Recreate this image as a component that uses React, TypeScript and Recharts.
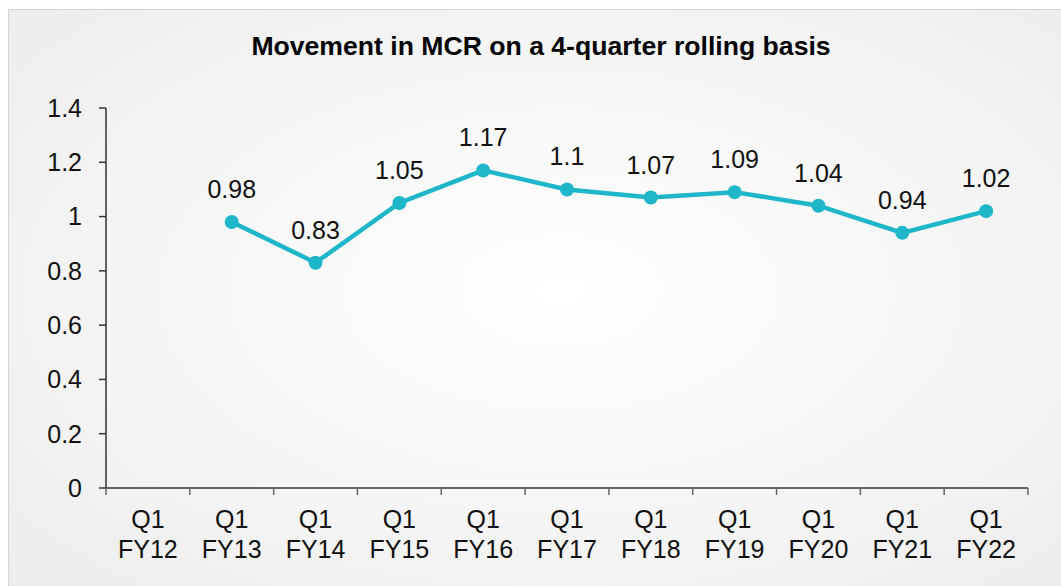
import React from 'react';
import { LineChart, Line, XAxis, YAxis, LabelList } from 'recharts';

const quarters = ['Q1', 'Q1', 'Q1', 'Q1', 'Q1', 'Q1', 'Q1', 'Q1', 'Q1', 'Q1', 'Q1'];
const years = ['FY12', 'FY13', 'FY14', 'FY15', 'FY16', 'FY17', 'FY18', 'FY19', 'FY20', 'FY21', 'FY22'];
const mcr = [null, 0.98, 0.83, 1.05, 1.17, 1.1, 1.07, 1.09, 1.04, 0.94, 1.02];
const yTicks = [0, 0.2, 0.4, 0.6, 0.8, 1, 1.2, 1.4];

const data = years.map((fy, i) => ({ name: `${quarters[i]} ${fy}`, q: quarters[i], fy, mcr: mcr[i] }));

const W = 1061;
const H = 586;
const MARGIN = { top: 108, right: 33, bottom: 18, left: 26 };
const Y_WIDTH = 80;
const BAND = (W - MARGIN.left - MARGIN.right - Y_WIDTH) / data.length;
const FONT = '"Liberation Sans", Arial, sans-serif';
const TEAL = '#1fb6ca';

const XTick = (props: any) => {
  const { x, y, index, payload } = props;
  const row = data[index] || data.find((d) => d.name === payload.value);
  const left = x - BAND / 2;
  return (
    <g>
      <line x1={left} y1={y} x2={left} y2={y + 7} stroke="#666" strokeWidth={1.5} />
      {index === data.length - 1 && (
        <line x1={x + BAND / 2} y1={y} x2={x + BAND / 2} y2={y + 7} stroke="#666" strokeWidth={1.5} />
      )}
      <text x={x} y={y + 40} textAnchor="middle" fontSize={25} fill="#111" fontFamily={FONT}>
        {row ? row.q : ''}
      </text>
      <text x={x} y={y + 70} textAnchor="middle" fontSize={25} fill="#111" fontFamily={FONT}>
        {row ? row.fy : ''}
      </text>
    </g>
  );
};

const ValueLabel = (props: any) => {
  const { x, y, value } = props;
  if (value === null || value === undefined) return null;
  return (
    <text x={x} y={y - 24} textAnchor="middle" fontSize={25} fill="#111" fontFamily={FONT}>
      {value}
    </text>
  );
};

const App = () => {
  return (
    <div style={{ position: 'absolute', left: 0, top: 0, width: W, height: H, overflow: 'hidden', fontFamily: FONT }}>
      <div
        style={{
          position: 'absolute',
          left: 8,
          top: 9,
          width: W,
          height: H,
          border: '1px solid #d4d4d4',
          background: 'radial-gradient(ellipse at 52% 48%, #ffffff 0%, #f7f7f7 45%, #ececec 100%)',
        }}
      />
      <div
        style={{
          position: 'absolute',
          left: 541,
          top: 33,
          transform: 'translateX(-50%)',
          whiteSpace: 'nowrap',
          fontSize: 26.6,
          lineHeight: 1,
          fontWeight: 'bold',
          color: '#000',
        }}
      >
        Movement in MCR on a 4-quarter rolling basis
      </div>
      <div style={{ position: 'absolute', left: 0, top: 0 }}>
        <LineChart width={W} height={H} data={data} margin={MARGIN}>
          <XAxis
            dataKey="name"
            interval={0}
            height={80}
            padding={{ left: BAND / 2, right: BAND / 2 }}
            tickSize={0}
            tickMargin={0}
            axisLine={{ stroke: '#666', strokeWidth: 2 }}
            tickLine={false}
            tick={<XTick />}
          />
          <YAxis
            width={Y_WIDTH}
            domain={[0, 1.4]}
            ticks={yTicks}
            interval={0}
            tickSize={7}
            tickMargin={17}
            axisLine={{ stroke: '#333', strokeWidth: 1.5 }}
            tickLine={{ stroke: '#333', strokeWidth: 1.5 }}
            tick={{ fontSize: 25, fill: '#111', fontFamily: FONT }}
          />
          <Line
            type="linear"
            dataKey="mcr"
            stroke={TEAL}
            strokeWidth={4.5}
            dot={{ r: 7, fill: TEAL, stroke: TEAL, strokeWidth: 0 }}
            activeDot={false}
            connectNulls={false}
            isAnimationActive={false}
          >
            <LabelList dataKey="mcr" content={<ValueLabel />} />
          </Line>
        </LineChart>
      </div>
    </div>
  );
};

export default App;
